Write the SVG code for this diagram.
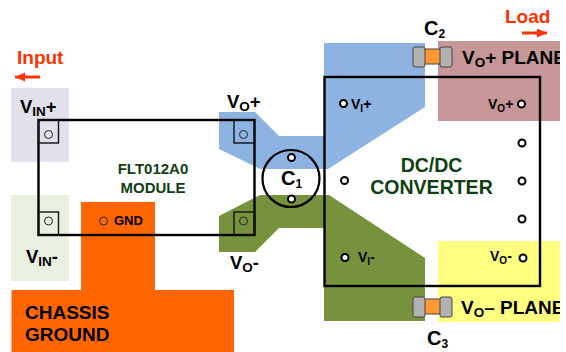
<svg xmlns="http://www.w3.org/2000/svg" width="566" height="352" viewBox="0 0 566 352">
<style>
text{font-family:"Liberation Sans",Arial,sans-serif;font-weight:bold;fill:#000}
.lbl{font-size:18.500px}
.pl{font-size:19px}
.cap{font-size:20px}
.sm{font-size:14px}
.sub{font-size:13.500px}
.subs{font-size:10px}
.grn{fill:#0f3f10;text-anchor:middle}
.red{fill:#ff3300;font-size:19px}
.hole{fill:#fff;stroke:#000;stroke-width:2}
.thin{fill:none;stroke:#222;stroke-width:1}
.box{fill:none;stroke:#000;stroke-width:2.400}
.pad{fill:none;stroke:#111;stroke-width:1.400}
.g{fill:#b2b2b2;stroke:#444;stroke-width:1}
.o{fill:#ff9933;stroke:#444;stroke-width:1}
</style>
<defs>
<marker id="ah" markerUnits="userSpaceOnUse" markerWidth="11" markerHeight="10" refX="10" refY="4.500" orient="auto"><path d="M0 0L10 4.500L0 9Z" fill="#ff3300"/></marker>
<clipPath id="planeClip"><rect x="0" y="0" width="560" height="352"/></clipPath>
</defs>

<g id="planes">
<rect x="11" y="88" width="58" height="74" fill="#e3dfeb"/>
<rect x="11" y="195" width="58" height="86" fill="#e9f0df"/>
<rect x="438" y="41" width="122" height="80" fill="#c79797"/>
<rect x="438" y="241" width="122" height="81" fill="#ffff80"/>
<path d="M219 112H255L279 136H324V43H425V107L328 169H260L219 149Z" fill="#8db3e2"/>
<path d="M219 216L260 195H329L425 258V321H324V228H279L255 252H219Z" fill="#76923c"/>
<path d="M81 202H155V290H234V352H11.500V290H81Z" fill="#ff6600"/>
</g>

<g id="module">
<rect class="box" x="38.500" y="120" width="216" height="115"/>
<rect class="pad" x="38.500" y="120" width="20" height="23"/>
<rect class="pad" x="38.500" y="212" width="20" height="23"/>
<rect class="pad" x="234" y="120" width="20.500" height="23"/>
<rect class="pad" x="234" y="212" width="20.500" height="23"/>
<circle class="thin" cx="48.500" cy="134.500" r="4"/>
<circle class="thin" cx="48.500" cy="221" r="4"/>
<circle class="thin" cx="243.500" cy="134.500" r="4"/>
<circle class="thin" cx="243.500" cy="221" r="4"/>
<circle class="thin" cx="103.500" cy="221" r="4"/>
<text class="grn" x="153" y="174" font-size="15">FLT012A0</text>
<text class="grn" x="153" y="193" font-size="15">MODULE</text>
<text x="114" y="225" font-size="13">GND</text>
</g>

<g id="converter">
<rect class="box" x="324.500" y="77" width="215.500" height="209"/>
<circle class="hole" cx="343.500" cy="103.500" r="3.500"/>
<circle class="hole" cx="521.500" cy="104" r="3.500"/>
<circle class="hole" cx="522" cy="143" r="3.500"/>
<circle class="hole" cx="522" cy="181" r="3.500"/>
<circle class="hole" cx="522" cy="219" r="3.500"/>
<circle class="hole" cx="523" cy="258" r="3.500"/>
<circle class="hole" cx="345" cy="257.500" r="3.500"/>
<circle class="hole" cx="344.500" cy="180.500" r="3.500"/>
<text class="grn" x="431.500" y="172" font-size="19.500">DC/DC</text>
<text class="grn" x="431.500" y="194" font-size="19.500">CONVERTER</text>
<text class="sm" x="351" y="109">V<tspan class="subs" dy="3">I</tspan><tspan dy="-3">+</tspan></text>
<text class="sm" x="488" y="109">V<tspan class="subs" dy="3">O</tspan><tspan dy="-3">+</tspan></text>
<text class="sm" x="358" y="262">V<tspan class="subs" dy="3">I</tspan><tspan dy="-3">-</tspan></text>
<text class="sm" x="490" y="261">V<tspan class="subs" dy="3">O</tspan><tspan dy="-3">-</tspan></text>
</g>

<g id="c1">
<circle cx="291" cy="178.500" r="28.500" fill="none" stroke="#000" stroke-width="2.200"/>
<circle class="hole" cx="291.500" cy="157.500" r="3.500"/>
<circle class="hole" cx="291.500" cy="199" r="3.500"/>
<text class="cap" x="281" y="185">C<tspan font-size="12" dy="3">1</tspan></text>
</g>

<g id="c2">
<rect class="o" x="424" y="49" width="17" height="15"/>
<rect class="g" x="413" y="47" width="12" height="20" rx="2"/>
<rect class="g" x="440" y="47" width="12" height="20" rx="2"/>
<text class="cap" x="424" y="35">C<tspan font-size="12" dy="3">2</tspan></text>
</g>

<g id="c3">
<rect class="o" x="424" y="299" width="17" height="15"/>
<rect class="g" x="413" y="297" width="12" height="20" rx="2"/>
<rect class="g" x="440" y="297" width="12" height="20" rx="2"/>
<text class="cap" x="427" y="345">C<tspan font-size="12" dy="3">3</tspan></text>
</g>

<g id="labels">
<text class="red" x="17" y="64">Input</text>
<text class="red" x="505" y="23">Load</text>
<text class="lbl" x="20" y="113">V<tspan class="sub" dy="3">IN</tspan><tspan dy="-3">+</tspan></text>
<text class="lbl" x="26" y="263">V<tspan class="sub" dy="3">IN</tspan><tspan dy="-3">-</tspan></text>
<text class="lbl" x="227" y="108">V<tspan class="sub" dy="3">O</tspan><tspan dy="-3">+</tspan></text>
<text class="lbl" x="230" y="269">V<tspan class="sub" dy="3">O</tspan><tspan dy="-3">-</tspan></text>
<g clip-path="url(#planeClip)">
<text class="pl" x="462" y="64">V<tspan class="sub" dy="3">O</tspan><tspan dy="-3">+ PLANE</tspan></text>
<text class="pl" x="461" y="314">V<tspan class="sub" dy="3">O</tspan><tspan dy="-3">– PLANE</tspan></text>
</g>
<text x="25" y="319" font-size="19">CHASSIS</text>
<text x="25" y="341" font-size="19">GROUND</text>
</g>

<g id="connectors" fill="none" stroke="#ff3300" stroke-width="3">
<path d="M40 77H15" marker-end="url(#ah)"/>
<path d="M522 33H547" marker-end="url(#ah)"/>
</g>
</svg>
